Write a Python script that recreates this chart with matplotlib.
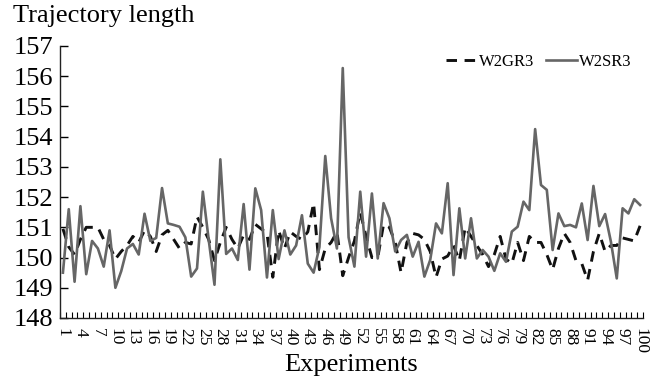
import numpy as np
import matplotlib
matplotlib.use('Agg')
import matplotlib.pyplot as plt

plt.rcParams['font.family'] = ['Liberation Serif', 'DejaVu Serif']

# Données
experiences = np.arange(1, 101)

w2gr3 = [
    150.95, 150.35, 150.1, 150.6, 151.0, 151.0, 151.0, 150.6, 150.4, 149.95,
    150.2, 150.4, 150.7, 150.5, 150.9, 150.7, 150.2, 150.75, 150.9, 150.6,
    150.3, 150.5, 150.45, 151.35, 151.0, 150.6, 149.9, 150.5, 151.0, 150.6,
    150.3, 150.75, 150.6, 151.1, 150.95, 150.8, 149.35, 150.9, 150.3, 150.85,
    150.7, 150.6, 150.85, 151.8, 149.6, 150.3, 150.5, 150.85, 149.4, 150.0,
    150.55, 151.5, 150.7, 150.0, 150.0, 151.1, 151.0, 150.5, 149.5, 150.5,
    150.8, 150.75, 150.6, 150.2, 149.35, 149.95, 150.05, 150.4, 149.9, 151.0,
    150.7, 150.4, 150.1, 149.7, 150.1, 150.7, 149.95, 149.8, 150.5, 149.9,
    150.7, 150.5, 150.5, 150.1, 149.6, 150.3, 150.8, 150.5, 149.9, 149.8,
    149.25, 150.2, 150.8, 150.2, 150.4, 150.4, 150.65, 150.6, 150.55, 151.05,
]

w2sr3 = [
    149.5, 151.6, 149.2, 151.7, 149.45, 150.55, 150.3, 149.7, 150.9, 149.0,
    149.55, 150.3, 150.45, 150.1, 151.45, 150.55, 150.65, 152.3, 151.13, 151.08,
    151.02, 150.67, 149.37, 149.64, 152.18, 150.6, 149.1, 153.25, 150.12, 150.3,
    149.92, 151.77, 149.6, 152.29, 151.57, 149.34, 151.57, 149.95, 150.9, 150.1,
    150.4, 151.4, 149.8, 149.5, 150.35, 153.36, 151.3, 150.3, 156.27, 150.67,
    149.7, 152.18, 150.03, 152.12, 149.97, 151.8, 151.3, 150.2, 150.58, 150.75,
    150.03, 150.52, 149.37, 149.92, 151.13, 150.8, 152.46, 149.42, 151.63, 149.97,
    151.3, 149.97, 150.25, 150.03, 149.56, 150.14, 149.86, 150.86, 151.02, 151.85,
    151.57, 154.25, 152.4, 152.24, 150.25, 151.46, 151.04, 151.08, 151.0, 151.79,
    150.58, 152.37, 151.04, 151.44, 150.52, 149.31, 151.63, 151.46, 151.93, 151.74,
]

etiquettes_x = experiences[::3]
graduations_y = np.arange(148, 158)

fig = plt.figure(figsize=(6.54, 3.81), dpi=100)
ax = fig.add_axes([60/654, 1 - 318/381, 583/654, 272/381])

ax.plot(experiences, w2gr3, color='#111111', lw=2.1, dashes=(3.6, 2.6), label='W2GR3')
ax.plot(experiences, w2sr3, color='#666666', lw=1.9, label='W2SR3')

ax.set_xlim(0.5, 100.5)
ax.set_ylim(148, 157)

# Axes style Excel
for cote in ('top', 'right'):
    ax.spines[cote].set_visible(False)
for cote in ('left', 'bottom'):
    ax.spines[cote].set_linewidth(1.0)
    ax.spines[cote].set_color('#222222')

ax.set_yticks(graduations_y)
ax.tick_params(axis='y', direction='in', length=6, width=1.0, labelsize=19, pad=5)

ax.set_xticks(etiquettes_x)
ax.set_xticklabels([str(e) for e in etiquettes_x], rotation=270, fontsize=12.5)
ax.set_xticks(np.arange(0.5, 101, 1), minor=True)
ax.tick_params(axis='x', which='major', length=0, pad=7)
ax.tick_params(axis='x', which='minor', direction='in', length=4, width=0.8)

fig.text(13/654, 1 - 5/381, 'Trajectory length', fontsize=19, va='top', ha='left')
fig.text(351/654, 1 - 365/381, 'Experiments', fontsize=19, va='center', ha='center')

ax.legend(loc='center right', bbox_to_anchor=(640/654, 1 - 62/381),
          bbox_transform=fig.transFigure, ncol=2, frameon=False, fontsize=12,
          handlelength=1.9, handletextpad=0.1, columnspacing=0.7, borderpad=0)

fig.savefig('out.png', dpi=100)
